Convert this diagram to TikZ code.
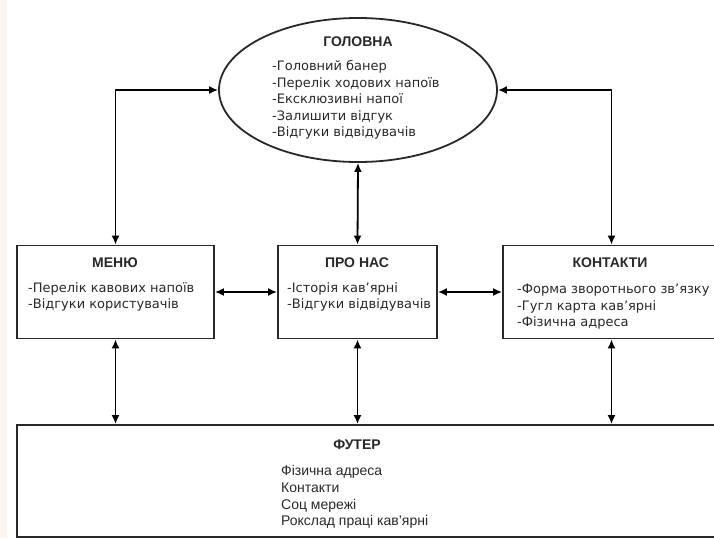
\documentclass[tikz,border=0pt]{standalone}
\usepackage{fontspec}
\setmainfont{Liberation Sans}
\newfontfamily\listfont{DejaVu Sans}
\usetikzlibrary{shapes.geometric,arrows.meta}

\definecolor{edge}{RGB}{253,245,240}
\definecolor{ink}{RGB}{40,40,40}

\tikzset{
  page/.style={draw=ink, line width=1.8pt, inner sep=0pt},
  title/.style={font=\fontsize{14}{16}\selectfont\bfseries, text=ink},
  items/.style={font=\listfont\fontsize{13}{16.5}\selectfont, text=ink, align=left, anchor=west, inner sep=0pt},
  footitems/.style={font=\fontsize{14}{16.8}\selectfont, text=ink, align=left, anchor=west, inner sep=0pt},
  link/.style={{Latex[length=9pt,width=8pt]}-{Latex[length=9pt,width=8pt]}, draw=black, line width=1.8pt},
}

\begin{document}
\begin{tikzpicture}[x=1pt,y=-1pt]
\useasboundingbox (0,0) rectangle (714,538);
\fill[edge] (0,0) rectangle (7,538);

% page blocks
\node[page, ellipse, minimum width=278pt, minimum height=144pt] (home) at (358,90) {};
\node[page, minimum width=197pt, minimum height=93pt] (menu) at (115.5,292) {};
\node[page, minimum width=159pt, minimum height=93pt] (about) at (357.5,292) {};
\node[page, minimum width=217pt, minimum height=93pt] (contact) at (611.5,292) {};
\node[page, minimum width=706pt, minimum height=112pt] (footer) at (370,481) {};

% texts
\node[title] (homeT) at (358,42) {ГОЛОВНА};
\node[items] (homeL) at (272,100) {-Головний банер\\-Перелік ходових напоїв\\-Ексклюзивні напої\\-Залишити відгук\\-Відгуки відвідувачів};

\node[title] (menuT) at (115,263) {МЕНЮ};
\node[items] (menuL) at (28,297) {-Перелік кавових напоїв\\-Відгуки користувачів};

\node[title] (aboutT) at (357,263) {ПРО НАС};
\node[items] (aboutL) at (287,297) {-Історія кав’ярні\\-Відгуки відвідувачів};

\node[title] (contactT) at (610,263) {КОНТАКТИ};
\node[items] (contactL) at (517,307) {-Форма зворотнього зв’язку\\-Гугл карта кав’ярні\\-Фізична адреса};

\node[title] (footerT) at (357,445) {ФУТЕР};
\node[footitems] (footerL) at (281,497) {Фізична адреса\\Контакти\\Соц мережі\\Рокслад праці кав’ярні};

% links
\draw[link] (menu.north) |- (home.west);
\draw[link] (contact.north) |- (home.east);
\draw[link] (home.south) -- (about.north);
\draw[link] (menu.east) -- (about.west);
\draw[link] (about.east) -- (contact.west);
\draw[link] (menu.south) -- (menu.south |- footer.north);
\draw[link] (about.south) -- (about.south |- footer.north);
\draw[link] (contact.south) -- (contact.south |- footer.north);
\end{tikzpicture}
\end{document}
